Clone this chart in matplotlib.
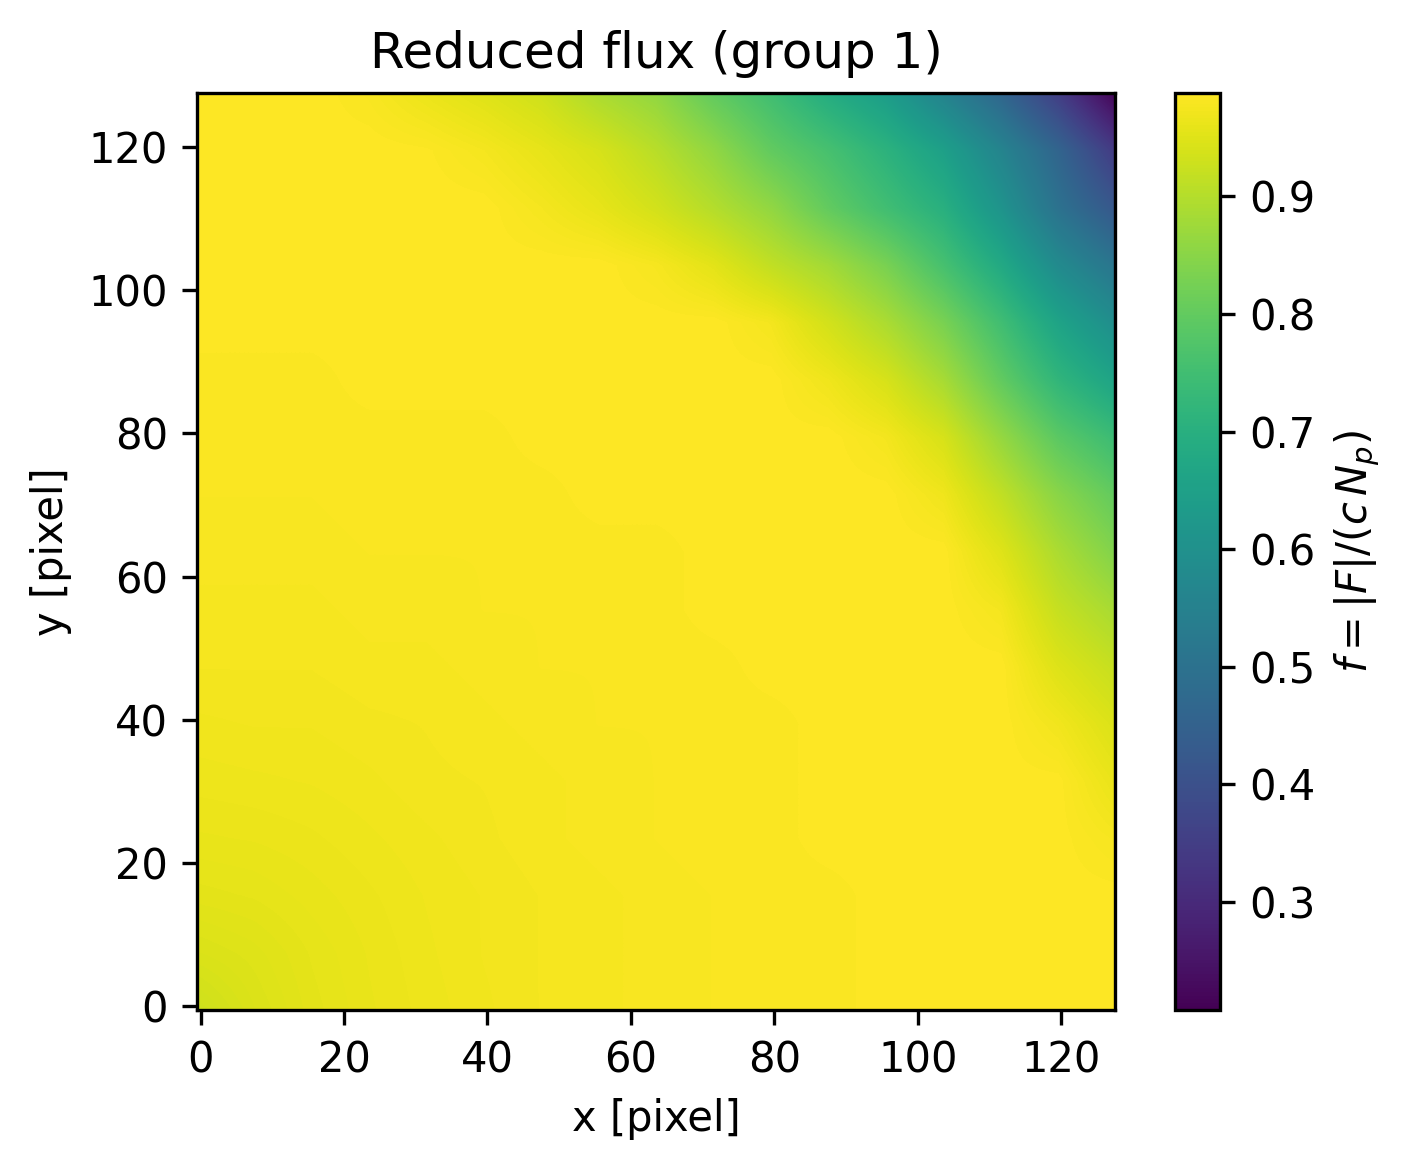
import numpy as np
import matplotlib
matplotlib.use("Agg")
import matplotlib.pyplot as plt

# reduced flux at nodes every 8 pixels (x, y = 0, 8, ..., 128)
# rows go from bottom (y=0) to top (y=128)
node_step = 8
flux_rows = [
    [0.930, 0.945, 0.956, 0.963, 0.968, 0.972, 0.976, 0.978, 0.980, 0.982, 0.984, 0.984, 0.986, 0.986, 0.987, 0.987, 0.987],
    [0.945, 0.950, 0.958, 0.964, 0.969, 0.973, 0.976, 0.978, 0.980, 0.982, 0.984, 0.984, 0.986, 0.986, 0.987, 0.987, 0.987],
    [0.956, 0.958, 0.962, 0.966, 0.970, 0.973, 0.976, 0.978, 0.980, 0.982, 0.984, 0.984, 0.986, 0.987, 0.987, 0.987, 0.987],
    [0.963, 0.964, 0.966, 0.969, 0.972, 0.975, 0.978, 0.980, 0.982, 0.984, 0.984, 0.986, 0.986, 0.987, 0.987, 0.987, 0.978],
    [0.968, 0.969, 0.970, 0.972, 0.975, 0.976, 0.978, 0.980, 0.982, 0.984, 0.984, 0.986, 0.986, 0.987, 0.987, 0.987, 0.962],
    [0.972, 0.973, 0.973, 0.975, 0.976, 0.978, 0.980, 0.982, 0.982, 0.984, 0.984, 0.986, 0.986, 0.987, 0.988, 0.972, 0.945],
    [0.976, 0.976, 0.976, 0.978, 0.978, 0.980, 0.982, 0.982, 0.984, 0.984, 0.986, 0.986, 0.987, 0.988, 0.988, 0.948, 0.920],
    [0.978, 0.978, 0.978, 0.980, 0.980, 0.982, 0.982, 0.984, 0.984, 0.986, 0.986, 0.986, 0.987, 0.988, 0.975, 0.920, 0.885],
    [0.980, 0.980, 0.980, 0.982, 0.982, 0.982, 0.984, 0.984, 0.984, 0.986, 0.986, 0.987, 0.988, 0.988, 0.950, 0.890, 0.840],
    [0.982, 0.982, 0.982, 0.984, 0.984, 0.984, 0.984, 0.986, 0.986, 0.986, 0.987, 0.988, 0.988, 0.970, 0.915, 0.850, 0.800],
    [0.984, 0.984, 0.984, 0.984, 0.984, 0.984, 0.986, 0.986, 0.986, 0.987, 0.987, 0.988, 0.975, 0.940, 0.865, 0.790, 0.740],
    [0.984, 0.984, 0.984, 0.986, 0.986, 0.986, 0.986, 0.986, 0.987, 0.987, 0.988, 0.970, 0.940, 0.885, 0.800, 0.720, 0.660],
    [0.986, 0.986, 0.986, 0.986, 0.986, 0.986, 0.987, 0.987, 0.988, 0.988, 0.975, 0.935, 0.890, 0.830, 0.750, 0.660, 0.590],
    [0.986, 0.986, 0.986, 0.987, 0.987, 0.987, 0.988, 0.988, 0.978, 0.955, 0.915, 0.880, 0.830, 0.760, 0.680, 0.580, 0.510],
    [0.987, 0.987, 0.987, 0.987, 0.988, 0.988, 0.976, 0.960, 0.935, 0.900, 0.860, 0.800, 0.750, 0.700, 0.610, 0.500, 0.420],
    [0.987, 0.987, 0.987, 0.988, 0.986, 0.976, 0.960, 0.940, 0.905, 0.860, 0.800, 0.760, 0.710, 0.650, 0.560, 0.460, 0.340],
    [0.987, 0.987, 0.988, 0.981, 0.965, 0.950, 0.930, 0.890, 0.860, 0.800, 0.750, 0.690, 0.640, 0.555, 0.465, 0.350, 0.210],
]
flux_min = 0.208
flux_max = 0.988
n_pixels = 128

flux = np.array(flux_rows)
n_nodes = flux.shape[0]

fig = plt.figure(figsize=(1412 / 300, 1170 / 300), dpi=300)
ax = fig.add_axes([0.1395, 0.1368, 0.6502, 0.7837])
cax = fig.add_axes([0.8322, 0.1368, 0.0319, 0.7837])

# node k sits at pixel k*8 (edge at -0.5), so each cell spans +-4 around it
half = node_step / 2
x0 = -0.5 - half
x1 = -0.5 + (n_nodes - 1) * node_step + half
im = ax.imshow(flux, origin="lower", cmap="viridis", vmin=flux_min, vmax=flux_max,
               extent=(x0, x1, x0, x1), interpolation="bilinear", aspect="auto")
ax.set_xlim(-0.5, n_pixels - 0.5)
ax.set_ylim(-0.5, n_pixels - 0.5)
ax.set_xticks(range(0, n_pixels, 20))
ax.set_yticks(range(0, n_pixels, 20))

ax.set_title("Reduced flux (group 1)", fontsize=12)
ax.set_xlabel("x [pixel]")
ax.set_ylabel("y [pixel]")

cb = fig.colorbar(im, cax=cax)
cb.set_label(r"$f = |F|/(c\,N_p)$")

fig.savefig("out.png", dpi=300)
